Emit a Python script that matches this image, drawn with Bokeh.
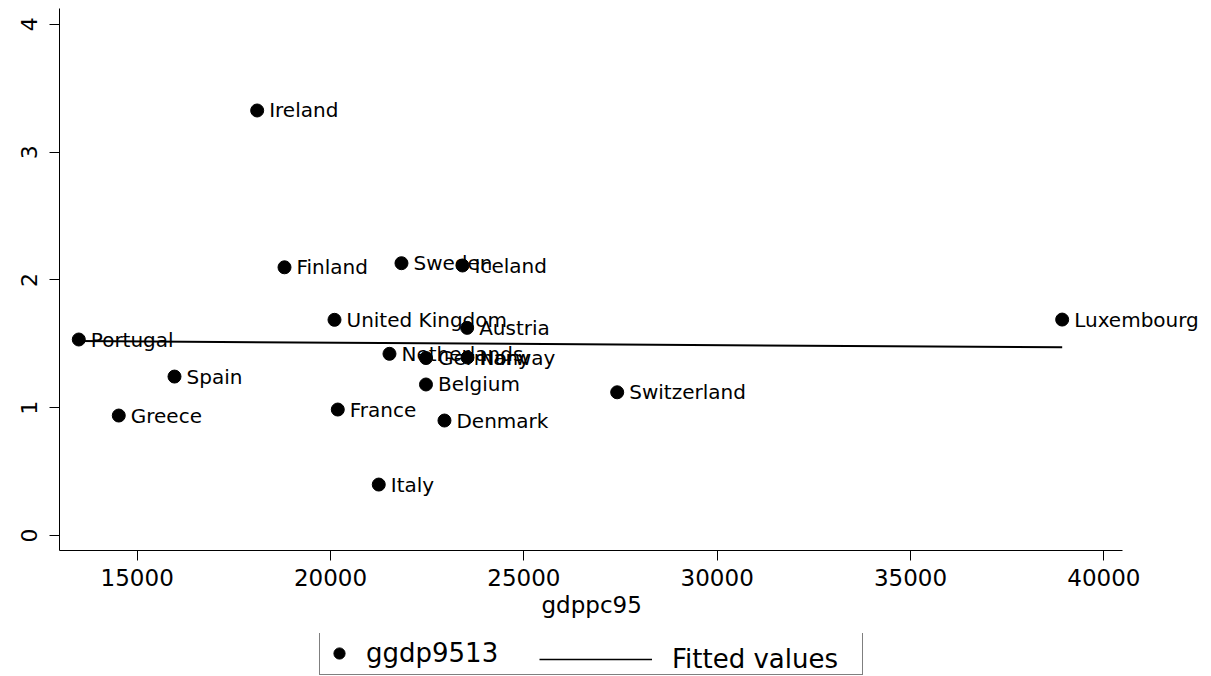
from bokeh.plotting import figure
from bokeh.layouts import column
from bokeh.models import (ColumnDataSource, Range1d, FixedTicker, Legend, LegendItem, Title)
from bokeh.core.properties import value
from bokeh.embed import file_html
from bokeh.resources import INLINE

# GDP per capita 1995 (x) vs. growth 1995-2013 (y)
countries = ["Ireland", "Finland", "Sweden", "Iceland", "United Kingdom", "Austria",
             "Luxembourg", "Portugal", "Netherlands", "Germany", "Norway", "Spain",
             "Belgium", "Switzerland", "France", "Greece", "Denmark", "Italy"]
gdppc95 = [18103, 18810, 21835, 23413, 20103, 23534,
           38922, 13490, 21525, 22469, 23542, 15965,
           22469, 27414, 20188, 14524, 22947, 21248]
ggdp9513 = [3.326, 2.099, 2.131, 2.113, 1.688, 1.625,
            1.690, 1.534, 1.422, 1.389, 1.393, 1.244,
            1.182, 1.121, 0.986, 0.939, 0.900, 0.399]

# Fitted values line (endpoints at min and max gdppc95)
fit_x = [13490, 38922]
fit_y = [1.522, 1.473]

x_ticks = [15000, 20000, 25000, 30000, 35000, 40000]
y_ticks = [0, 1, 2, 3, 4]

FONT = "DejaVu Sans"

X_AXIS_START, X_AXIS_END = 12991, 40482

src = ColumnDataSource(dict(x=gdppc95, y=ggdp9513, name=countries))
fit_src = ColumnDataSource(dict(x=fit_x, y=fit_y))

# the frame runs to the right edge so long labels are not cut; the axis stops at its bounds
p = figure(width=1211, height=633, output_backend="svg", toolbar_location=None,
           x_range=Range1d(X_AXIS_START, 42784), y_range=Range1d(-0.117, 4.124),
           min_border_left=59, min_border_right=0, min_border_top=8, min_border_bottom=83)
p.outline_line_color = None
p.background_fill_color = "white"
p.border_fill_color = "white"
p.xgrid.visible = False
p.ygrid.visible = False

p.text(x="x", y="y", text="name", source=src, x_offset=12,
       text_baseline="middle", text_align="left",
       text_font=value(FONT), text_font_size="20px", text_color="black")
p.line(x="x", y="y", source=fit_src, line_color="black", line_width=2)
p.scatter(x="x", y="y", source=src, marker="circle", size=13,
          fill_color="black", line_color="black")

for ax in (p.xaxis[0], p.yaxis[0]):
    ax.axis_line_color = "black"
    ax.axis_line_width = 1
    ax.major_tick_line_color = "black"
    ax.major_tick_in = 0
    ax.major_tick_out = 10
    ax.minor_tick_line_color = None
    ax.major_label_text_font = FONT
    ax.major_label_text_color = "black"

p.xaxis.bounds = (X_AXIS_START, X_AXIS_END)
p.xaxis.ticker = FixedTicker(ticks=x_ticks)
p.xaxis.major_label_text_font_size = "23px"
p.xaxis.major_label_standoff = 8

p.yaxis.ticker = FixedTicker(ticks=y_ticks)
p.yaxis.major_label_orientation = "vertical"
p.yaxis.major_label_text_font_size = "22px"
p.yaxis.major_label_standoff = 12

# x-axis title, centred under the drawn part of the axis
p.add_layout(Title(text="gdppc95", align="left", offset=482, vertical_align="middle",
                   standoff=4, text_font=FONT, text_font_size="23px",
                   text_font_style="normal", text_color="black"), "below")

# Legend strip under the chart; its sample renderers sit outside its own view
lp = figure(width=1211, height=43, output_backend="svg", toolbar_location=None,
            x_range=Range1d(0, 1), y_range=Range1d(0, 1),
            x_axis_location=None, y_axis_location=None,
            min_border_left=0, min_border_right=0, min_border_top=0, min_border_bottom=0)
lp.outline_line_color = None
lp.xgrid.visible = False
lp.ygrid.visible = False
leg_line = lp.line(x="x", y="y", source=fit_src, line_color="black", line_width=1.5)
leg_pts = lp.scatter(x="x", y="y", source=src, marker="circle", size=13,
                     fill_color="black", line_color="black")

common = dict(orientation="horizontal", glyph_height=32, label_height=32,
              padding=5, spacing=0, margin=0,
              label_text_font=FONT, label_text_font_size="26px", label_text_color="black")
legend_pts = Legend(items=[LegendItem(label="ggdp9513", renderers=[leg_pts])],
                    location=(260, 1), glyph_width=28, label_width=491, label_standoff=13,
                    border_line_color="black", border_line_width=1,
                    background_fill_color="white", background_fill_alpha=1, **common)
legend_fit = Legend(items=[LegendItem(label="Fitted values", renderers=[leg_line])],
                    location=(480, 1), glyph_width=113, label_standoff=20,
                    border_line_color=None, background_fill_alpha=0, **common)
lp.add_layout(legend_pts, "center")
lp.add_layout(legend_fit, "center")

page = column(p, lp, spacing=0)
open("out.html", "w").write(file_html(page, INLINE))
